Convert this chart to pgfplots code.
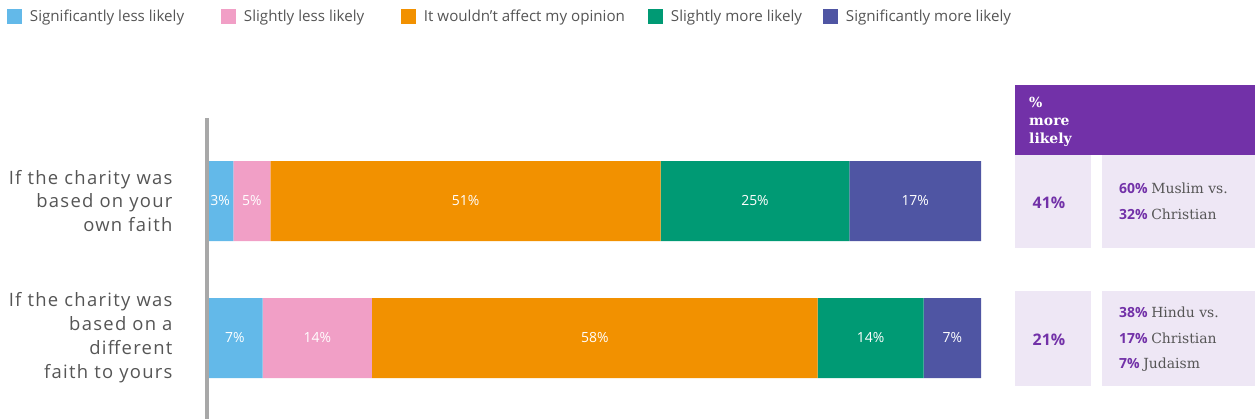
\documentclass[border=0pt]{standalone}
\usepackage{pgfplots}
\pgfplotsset{compat=1.18}
\usepackage{fontspec}
\setmainfont{Open Sans}
\newfontfamily\catfont[LetterSpace=7]{Open Sans}
\newfontfamily\slab{DejaVu Serif}
\definecolor{cblue}{HTML}{63B9E9}
\definecolor{cpink}{HTML}{F19FC6}
\definecolor{corange}{HTML}{F29100}
\definecolor{cgreen}{HTML}{009A74}
\definecolor{cpurple}{HTML}{4F55A3}
\definecolor{hdr}{HTML}{7231A8}
\definecolor{cell}{HTML}{EEE7F5}
\definecolor{ptext}{HTML}{7231A8}
\definecolor{dtext}{HTML}{555555}
\definecolor{axgray}{HTML}{A8A8A8}
\begin{document}
\begin{tikzpicture}
\useasboundingbox (0,0) rectangle (1255bp,-419bp);
\begin{axis}[
  at={(207bp,-419bp)}, anchor=south west,
  scale only axis, width=774bp, height=301bp,
  xbar stacked, bar width=80bp,
  xmin=0, xmax=100,
  ymin=-0.5912, ymax=1.6058,
  axis x line=none,
  axis y line*=left,
  y axis line style={draw=axgray, line width=3bp, -},
  axis on top,
  ytick={0,1},
  yticklabels={{If the charity was\\based on a\\different\\faith to yours},{If the charity was\\based on your\\own faith}},
  yticklabel style={align=right, font=\catfont\fontsize{18.5}{24}\selectfont, text=dtext, xshift=-31bp},
  major tick length=0pt,
  point meta=explicit symbolic,
  nodes near coords={\pgfplotspointmeta\%},
  every node near coord/.append style={anchor=center, text=white, font=\fontsize{14}{15}\selectfont},
  legend columns=5,
  legend image code/.code={\fill[#1] (0bp,-7.5bp) rectangle (15bp,7.5bp); \path (23bp,0bp);},
  legend style={at={(-0.2584,1.3372)}, anchor=west, draw=none, fill=none, inner sep=0pt, outer sep=0pt,
    column sep=0pt, font=\fontsize{15.2}{17}\selectfont, text=dtext, nodes={inner sep=0pt}},
]
\addplot[fill=cblue, draw=none] coordinates {(3.4,1) [3] (7.2,0) [7]};
\addlegendentry{\makebox[191bp][l]{Significantly less likely}}
\addplot[fill=cpink, draw=none] coordinates {(4.8,1) [5] (14.1,0) [14]};
\addlegendentry{\makebox[157bp][l]{Slightly less likely}}
\addplot[fill=corange, draw=none] coordinates {(50.4,1) [51] (57.6,0) [58]};
\addlegendentry{\makebox[224bp][l]{It wouldn't affect my opinion}}
\addplot[fill=cgreen, draw=none] coordinates {(24.4,1) [25] (13.7,0) [14]};
\addlegendentry{\makebox[152bp][l]{Slightly more likely}}
\addplot[fill=cpurple, draw=none] coordinates {(17.0,1) [17] (7.4,0) [7]};
\addlegendentry{Significantly more likely}
\end{axis}
% right-hand panels
\fill[hdr] (1015bp,-85bp) rectangle (1255bp,-155bp);
\node[anchor=north west, align=left, text=white, inner sep=0pt, font=\slab\bfseries\fontsize{14}{18}\selectfont] at (1029bp,-97bp) {\%\\more\\likely};
\fill[cell] (1015bp,-155bp) rectangle (1091bp,-248bp);
\fill[cell] (1102bp,-155bp) rectangle (1255bp,-248bp);
\fill[cell] (1015bp,-291bp) rectangle (1091bp,-386bp);
\fill[cell] (1102bp,-291bp) rectangle (1255bp,-386bp);
\node[anchor=base, inner sep=0pt, text=ptext, font=\bfseries\fontsize{16}{18}\selectfont] at (1049bp,-208bp) {41\%};
\node[anchor=base, inner sep=0pt, text=ptext, font=\bfseries\fontsize{16}{18}\selectfont] at (1049bp,-345bp) {21\%};
\tikzset{ptline/.style={anchor=base west, inner sep=0pt, text=dtext, font=\fontsize{14}{16}\selectfont}}
\node[ptline] at (1119bp,-193bp) {\textcolor{ptext}{\textbf{60\%}} {\slab\fontsize{14}{16}\selectfont Muslim vs.}};
\node[ptline] at (1119bp,-219bp) {\textcolor{ptext}{\textbf{32\%}} {\slab\fontsize{14}{16}\selectfont Christian}};
\node[ptline] at (1119bp,-317bp) {\textcolor{ptext}{\textbf{38\%}} {\slab\fontsize{14}{16}\selectfont Hindu vs.}};
\node[ptline] at (1119bp,-343bp) {\textcolor{ptext}{\textbf{17\%}} {\slab\fontsize{14}{16}\selectfont Christian}};
\node[ptline] at (1119bp,-368bp) {\textcolor{ptext}{\textbf{7\%}} {\slab\fontsize{14}{16}\selectfont Judaism}};
\end{tikzpicture}
\end{document}
